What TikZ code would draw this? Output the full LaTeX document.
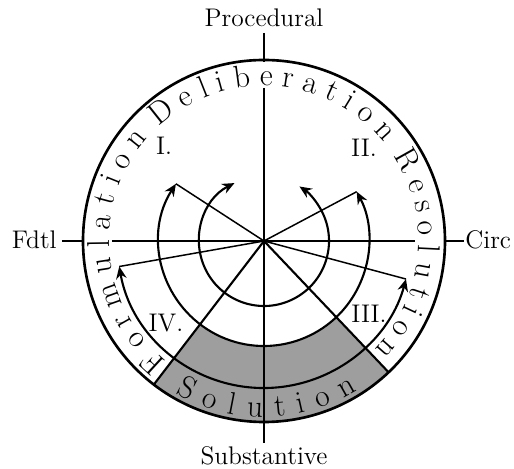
\documentclass[tikz,border=0pt]{standalone}
\usepackage{tikz}
\usetikzlibrary{arrows.meta,decorations.text}

\newcommand{\bandfont}{\fontsize{18}{18}\selectfont}

\begin{document}
\begin{tikzpicture}[
    x=0.02cm, y=0.02cm,
    >={Stealth[length=7pt,width=6pt]},
    rim/.style={line width=1.5pt},
    axis/.style={line width=1.2pt},
    ray/.style={line width=0.85pt},
    sweep/.style={line width=1.2pt, <->},
    lbl/.style={font=\fontsize{14.5}{17}\selectfont, inner sep=0pt, anchor=base},
    band/.style={decorate, decoration={text along path, text align={fit to path}, text={|\bandfont|#1}}}
]

\useasboundingbox (-264,-228) rectangle (250,241);

% shaded sector under the two lower rays
\fill[black!38] (232.5:105) arc[start angle=232.5, end angle=313.5, radius=105]
    -- (313.5:181) arc[start angle=313.5, end angle=232.5, radius=181] -- cycle;

\draw[rim] (0,0) circle[radius=181];

% end points
\coordinate (O)    at (0,0);
\coordinate (ptop) at (90:208);
\coordinate (prim) at (90:179);
\coordinate (pin)  at (90:153);
\coordinate (sbot) at (270:202);
\coordinate (fout) at (180:202);
\coordinate (frim) at (180:181);
\coordinate (fin)  at (180:152);
\coordinate (cout) at (0:200);
\coordinate (crim) at (0:181);
\coordinate (cin)  at (0:151);
\coordinate (e1)   at (232.5:181);
\coordinate (e2)   at (313.5:181);
\coordinate (s1)   at (117:65);
\coordinate (m1)   at (147:105);
\coordinate (m2)   at (28:105);
\coordinate (l1)   at (190:147);
\coordinate (l2)   at (-15:147);

\node[lbl]                   (proc)  at (0,214)   {Procedural};
\node[lbl]                   (subst) at (0,-224)  {Substantive};
\node[lbl, anchor=base east] (fdtl)  at (-207,-8) {Fdtl};
\node[lbl, anchor=base west] (circ)  at (201,-8)  {Circ};

\node[lbl] (q1) at (-100,86)  {I.};
\node[lbl] (q2) at (100,84)   {II.};
\node[lbl] (q3) at (105,-82)  {III.};
\node[lbl] (q4) at (-98,-91)  {IV.};

% axes
\draw[axis] (ptop) -- (prim);
\draw[axis] (pin)  -- (sbot);
\draw[axis] (fout) -- (frim);
\draw[axis] (fin)  -- (cin);
\draw[axis] (crim) -- (cout);
\draw[axis] (O) -- (e1);
\draw[axis] (O) -- (e2);

% rays to the arrow tips
\draw[ray] (O) -- (m1);
\draw[ray] (O) -- (l1);
\draw[ray] (O) -- (m2);
\draw[ray] (O) -- (l2);

% sweeps
\draw[sweep] (s1) arc[start angle=117, end angle=417, radius=65];
\draw[sweep] (m1) arc[start angle=147, end angle=388, radius=105];
\draw[sweep] (l1) arc[start angle=190, end angle=345, radius=147];

% ring words
\path[band=Formulation]  (231:155)   arc[start angle=231,   end angle=138.5, radius=155];
\path[band=Deliberation] (132.6:155) arc[start angle=132.6, end angle=39.4,  radius=155];
\path[band=Resolution]   (33.3:155)  arc[start angle=33.3,  end angle=-44.3, radius=155];
\path[band=Solution]     (239.7:176) arc[start angle=239.7, end angle=302,   radius=176];

\end{tikzpicture}
\end{document}
